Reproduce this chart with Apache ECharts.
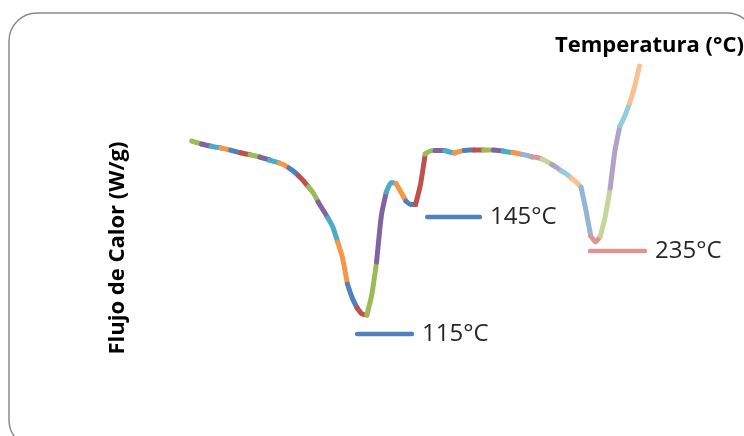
<!DOCTYPE html>
<html>
<head>
<meta charset="utf-8">
<script src="https://cdn.jsdelivr.net/npm/echarts@6/dist/echarts.min.js"></script>
<style>
  html, body { margin: 0; padding: 0; background: #ffffff; }
  #chart { width: 744px; height: 436px; }
</style>
</head>
<body>
<div id="chart"></div>
<script>
// DSC thermogram: temperature (°C) against heat flow (W/g)
const temps = [25, 27.5, 30, 32.5, 35, 37.5, 40, 42.5, 45, 47.5,
  50, 52.5, 55, 57.5, 60, 62.5, 65, 67.5, 70, 72.5,
  75, 77.5, 80, 82.5, 85, 87.5, 90, 92.5, 95, 97.5,
  100, 102.5, 105, 107.5, 110, 112.5, 115, 117.5, 120, 122.5,
  125, 127.5, 130, 132.5, 135, 137.5, 140, 142.5, 145, 147.5,
  150, 152.5, 155, 157.5, 160, 162.5, 165, 167.5, 170, 172.5,
  175, 177.5, 180, 182.5, 185, 187.5, 190, 192.5, 195, 197.5,
  200, 202.5, 205, 207.5, 210, 212.5, 215, 217.5, 220, 222.5,
  225, 227.5, 230, 232.5, 235, 237.5, 240, 242.5, 245, 247.5,
  250, 252.5, 255];

const heatFlow = [-0.05, -0.065, -0.08, -0.093, -0.103, -0.112, -0.12, -0.13, -0.142, -0.155,
  -0.167, -0.178, -0.188, -0.198, -0.21, -0.225, -0.24, -0.255, -0.27, -0.29,
  -0.32, -0.355, -0.40, -0.45, -0.51, -0.57, -0.66, -0.74, -0.82, -0.91,
  -1.06, -1.22, -1.48, -1.62, -1.72, -1.78, -1.79, -1.59, -1.26, -0.79,
  -0.56, -0.465, -0.475, -0.56, -0.65, -0.685, -0.685, -0.49, -0.18, -0.15,
  -0.145, -0.145, -0.145, -0.16, -0.17, -0.155, -0.145, -0.14, -0.14, -0.14,
  -0.14, -0.14, -0.14, -0.145, -0.15, -0.16, -0.165, -0.175, -0.185, -0.195,
  -0.21, -0.215, -0.23, -0.255, -0.285, -0.315, -0.35, -0.38, -0.42, -0.46,
  -0.51, -0.74, -1.00, -1.06, -1.00, -0.80, -0.52, -0.14, 0.10, 0.20,
  0.33, 0.49, 0.70];

// Each run of the curve covers 5 °C (two sampling steps)
const pointsPerRun = 2;

// Peak annotations: label temperature, bar start/end temperature, bar level
const peakLabels = [115, 145, 235];
const barStart = [110, 146, 229.6];
const barEnd = [138.2, 173.1, 257.9];
const barLevel = [-1.98, -0.81, -1.15];

// Palette for the curve runs
const baseColors = ['#4F81BD', '#C0504D', '#9BBB59', '#8064A2', '#4BACC6', '#F79646'];
const lightColors = ['#95B3D7', '#D99694', '#C3D69B', '#B3A2C7', '#93CDDD', '#FAC090'];
const barColors = ['#4F81BD', '#4F81BD', '#D99694'];
const firstLightRun = 34;

const points = temps.map((t, i) => [t, heatFlow[i]]);
const series = [];
const runCount = Math.floor((points.length - 1) / pointsPerRun);
for (let r = 0; r < runCount; r++) {
  const color = r < firstLightRun
    ? baseColors[(r + 2) % 6]
    : lightColors[(r - firstLightRun) % 6];
  series.push({
    type: 'line',
    data: points.slice(r * pointsPerRun, r * pointsPerRun + pointsPerRun + 1),
    showSymbol: false,
    smooth: 0.2,
    silent: true,
    lineStyle: { color: color, width: 5, cap: 'round', join: 'round' },
    z: 3
  });
}

peakLabels.forEach((p, i) => {
  series.push({
    type: 'line',
    data: [[barStart[i], barLevel[i]], [barEnd[i], barLevel[i]]],
    showSymbol: false,
    silent: true,
    lineStyle: { color: barColors[i], width: 4.5, cap: 'round' },
    endLabel: {
      show: true,
      formatter: p + '°C',
      distance: 10,
      color: '#262626',
      fontFamily: 'Open Sans',
      fontSize: 24
    },
    z: 2
  });
});

const chart = echarts.init(document.getElementById('chart'), null, { renderer: 'canvas' });
chart.setOption({
  animation: false,
  backgroundColor: '#ffffff',
  grid: { left: 143, top: 36, width: 584, height: 400 },
  xAxis: {
    type: 'value', min: 0, max: 300,
    axisLine: { show: false }, axisTick: { show: false },
    axisLabel: { show: false }, splitLine: { show: false }
  },
  yAxis: {
    type: 'value', min: -3, max: 1,
    axisLine: { show: false }, axisTick: { show: false },
    axisLabel: { show: false }, splitLine: { show: false }
  },
  graphic: [
    {
      type: 'rect',
      shape: { x: 9, y: 13, width: 746, height: 435, r: 28 },
      style: { fill: 'none', stroke: '#8a8a8a', lineWidth: 1.5 },
      silent: true
    },
    {
      type: 'text',
      x: 555, y: 46,
      style: {
        text: 'Temperatura (°C)',
        font: 'bold 22px "Open Sans"',
        fill: '#000000',
        textAlign: 'left',
        textVerticalAlign: 'middle'
      }
    },
    {
      type: 'text',
      x: 118, y: 248,
      rotation: Math.PI / 2,
      style: {
        text: 'Flujo de Calor (W/g)',
        font: 'bold 22px "Open Sans"',
        fill: '#000000',
        textAlign: 'center',
        textVerticalAlign: 'middle'
      }
    }
  ],
  series: series
});
</script>
</body>
</html>
